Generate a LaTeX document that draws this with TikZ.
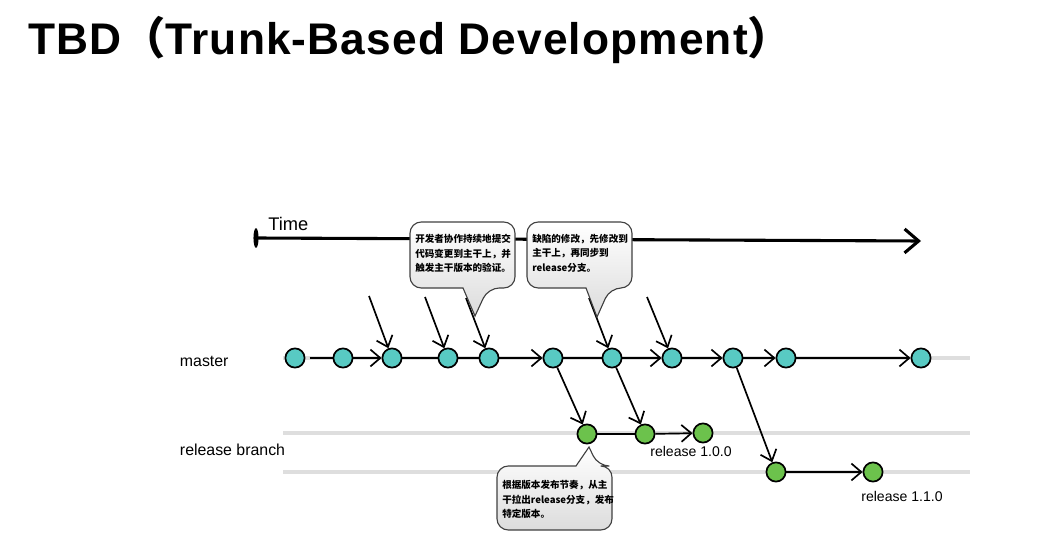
\documentclass[tikz,border=0pt]{standalone}
\usepackage{fontspec}
\setmainfont{Liberation Sans}
\newfontfamily\cjk{Noto Sans CJK SC}
\usetikzlibrary{positioning, arrows.meta}
\definecolor{sCyan}{HTML}{58CAC3}
\definecolor{sGreen}{HTML}{6CC24C}
\definecolor{sTrack}{HTML}{DEDEDE}
\definecolor{sNote}{HTML}{DCDCDC}

\begin{document}
\begin{tikzpicture}[x=0.025cm, y=-0.025cm,
  commit/.style={circle, draw=black, line width=1.2pt, minimum size=0.48cm, inner sep=0pt},
  flow/.style={line width=1.2pt, -{Straight Barb[length=7pt, width=12pt]}},
  link/.style={line width=1.2pt},
  track/.style={line width=2.5pt, draw=sTrack},
  note/.style={draw=black!75, line width=0.8pt, top color=white, bottom color=sNote},
  notetext/.style={anchor=north west, align=left, inner sep=0pt,
    font=\cjk\bfseries\fontsize{6.8}{10.3}\selectfont},
  lbl/.style={anchor=base west, font=\fontsize{11.3}{13}\selectfont},
  tag/.style={font=\fontsize{10}{12}\selectfont}]

  \useasboundingbox (0,0) rectangle (1044,557);

  % title
  \node[anchor=base west, inner sep=0pt, font=\bfseries\fontsize{31.5}{36}\selectfont\addfontfeatures{LetterSpace=2.5}] (title) at (28,55)
    {TBD{\cjk （}Trunk-Based Development{\cjk ）}};

  % time axis
  \coordinate (t0) at (256,238);
  \coordinate (t1) at (921,241);
  \draw[line width=2.2pt, -{Straight Barb[length=10pt, width=17pt]}] (t0) -- (t1);
  \fill (t0) ellipse [x radius=1.8pt, y radius=7pt];
  \node[anchor=base west, inner sep=0pt, font=\fontsize{13}{15}\selectfont] (time) at (268,231) {Time};

  % tracks
  \coordinate (ms) at (283,358);
  \coordinate (me) at (970,358);
  \coordinate (as) at (283,433);
  \coordinate (ae) at (970,433);
  \coordinate (bs) at (283,472);
  \coordinate (be) at (970,472);
  \draw[track] (ms) -- (me);
  \draw[track] (as) -- (ae);
  \draw[track] (bs) -- (be);

  \node[lbl] (mlabel) at (175,366) {master};
  \node[lbl] (rlabel) at (175,455) {release branch};

  % commits on master
  \foreach \x [count=\i] in {295,343,392,448,489,553,612,672,733,786,921}
    \node[commit, fill=sCyan] (m\i) at (\x,358) {};

  % release commits
  \node[commit, fill=sGreen] (r1) at (587,434) {};
  \node[commit, fill=sGreen] (r2) at (645,434) {};
  \node[commit, fill=sGreen] (r3) at (703,433) {};
  \node[commit, fill=sGreen] (r4) at (776,472) {};
  \node[commit, fill=sGreen] (r5) at (873,472) {};

  \node[tag] (v100) at (691,451) {release 1.0.0};
  \node[tag] (v110) at (902,496) {release 1.1.0};

  % master edges
  \draw[link, shorten <=3pt] (m1) -- (m2);
  \draw[flow] (m2) -- (m3);
  \draw[link] (m3) -- (m4);
  \draw[link] (m4) -- (m5);
  \draw[flow] (m5) -- (m6);
  \draw[link] (m6) -- (m7);
  \draw[flow] (m7) -- (m8);
  \draw[flow] (m8) -- (m9);
  \draw[flow] (m9) -- (m10);
  \draw[flow] (m10) -- (m11);

  % commits from developers
  \coordinate (d3) at (369,296);
  \coordinate (d4) at (425,297);
  \coordinate (d5) at (466,298);
  \coordinate (d7) at (589,298);
  \coordinate (d8) at (647,297);
  \foreach \j in {3,4,5,7,8}
    \draw[flow] (d\j) -- (m\j);

  % release branches
  \draw[flow] (m6) -- (r1);
  \draw[flow] (m7) -- (r2);
  \draw[flow] (m9) -- (r4);
  \draw[link] (r1) -- (r2);
  \draw[flow] (r2) -- (r3);
  \draw[flow] (r4) -- (r5);

  % notes
  \draw[note, rounded corners=8pt] (460,222) -- (515,222) -- (515,288) -- (488,288) [sharp corners]
    -- (475,316) -- (463,288) [rounded corners=8pt] -- (410,288) -- (410,222) -- cycle;
  \draw[note, rounded corners=8pt] (580,222) -- (632,222) -- (632,288) -- (610,288) [sharp corners]
    -- (597,317) -- (586,288) [rounded corners=8pt] -- (527,288) -- (527,222) -- cycle;
  \draw[note, rounded corners=8pt] (550,530) -- (612,530) -- (612,466) -- (598,466) [sharp corners]
    -- (589,447) -- (576,466) [rounded corners=8pt] -- (497,466) -- (497,530) -- cycle;

  \node[notetext] (n1) at (415,234) {开发者协作持续地提交\\代码变更到主干上，并\\触发主干版本的验证。};
  \node[notetext] (n2) at (532,234) {缺陷的修改，先修改到\\主干上，再同步到\\release分支。};
  \node[notetext] (n3) at (502,480) {根据版本发布节奏，从主\\干拉出release分支，发布\\特定版本。};
\end{tikzpicture}
\end{document}
